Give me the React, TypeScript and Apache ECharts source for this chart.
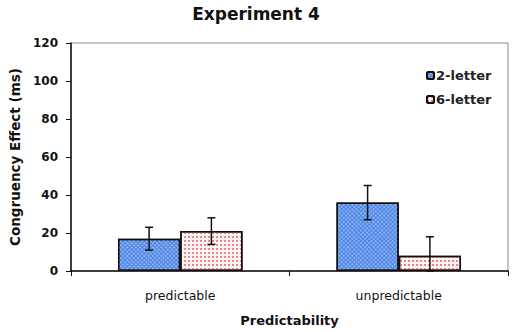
import React, { useEffect, useRef } from "react";
import * as echarts from "echarts";

const categories = ["predictable", "unpredictable"];
const seriesNames = ["2-letter", "6-letter"];
const values2 = [17, 36];
const values6 = [21, 8];
const err2 = [6, 9];
const err6 = [7, 10];
const yTicks = [0, 20, 40, 60, 80, 100, 120];

const FONT = "DejaVu Sans";

export default function App() {
  const ref = useRef<HTMLDivElement>(null);
  useEffect(() => {
    if (!ref.current) return;
    const chart = echarts.init(ref.current, undefined, { renderer: "svg" });
    const errData: number[][] = [];
    values2.forEach((v, i) => errData.push([i, v, err2[i], 0]));
    values6.forEach((v, i) => errData.push([i, v, err6[i], 1]));
    chart.setOption({
      animation: false,
      backgroundColor: "#fff",
      title: {
        text: "Experiment 4",
        left: "center",
        top: 0,
        textStyle: { fontFamily: FONT, fontWeight: "bold", fontSize: 17, color: "#111" },
      },
      legend: {
        orient: "vertical",
        left: 421,
        top: 64,
        itemWidth: 7,
        itemHeight: 7,
        itemGap: 11,
        data: seriesNames,
        textStyle: { fontFamily: FONT, fontSize: 13, fontWeight: "bold", color: "#222", padding: [0, 0, 0, -3] },
      },
      grid: {
        left: 65,
        right: 4,
        top: 43,
        bottom: 56,
        show: true,
        borderColor: "#888",
        borderWidth: 1,
      },
      xAxis: {
        type: "category",
        data: categories,
        name: "Predictability",
        nameLocation: "middle",
        nameGap: 43,
        nameTextStyle: { fontFamily: FONT, fontWeight: "bold", fontSize: 13, color: "#111" },
        axisLine: { lineStyle: { color: "#111", width: 1.5 } },
        axisTick: { show: true, length: 5, lineStyle: { color: "#111" } },
        axisLabel: { fontFamily: FONT, fontSize: 12.5, color: "#111", margin: 18 },
      },
      yAxis: {
        type: "value",
        min: 0,
        max: 120,
        interval: 20,
        name: "Congruency Effect (ms)",
        nameLocation: "middle",
        nameGap: 49,
        nameTextStyle: { fontFamily: FONT, fontWeight: "bold", fontSize: 13.5, color: "#111" },
        axisLine: { show: true, lineStyle: { color: "#111", width: 1.5 } },
        axisTick: { show: true, length: 5, lineStyle: { color: "#111" } },
        axisLabel: {
          fontFamily: FONT,
          fontSize: 12,
          fontWeight: "bold",
          color: "#111",
          margin: 13,
          formatter: (v: number) => (yTicks.includes(v) ? String(v) : ""),
        },
        splitLine: { show: false },
      },
      series: [
        {
          name: seriesNames[0],
          type: "bar",
          data: values2,
          barGap: "0%",
          barCategoryGap: "43%",
          itemStyle: {
            color: "#4a80e2",
            borderColor: "#111",
            borderWidth: 1.5,
            decal: {
              symbol: "circle",
              symbolSize: 1,
              color: "rgba(170,205,255,0.8)",
              dashArrayX: [2, 1],
              dashArrayY: [2, 1],
              rotation: 0.785,
            },
          },
        },
        {
          name: seriesNames[1],
          type: "bar",
          data: values6,
          itemStyle: {
            color: "#fdf5f5",
            borderColor: "#111",
            borderWidth: 1.5,
            decal: {
              symbol: "circle",
              symbolSize: 1,
              color: "#dc7272",
              dashArrayX: [1.3, 2],
              dashArrayY: [1.3, 2],
              rotation: 0,
            },
          },
        },
        {
          type: "custom",
          data: errData,
          z: 10,
          renderItem: (params: any, api: any) => {
            const idx = api.value(0);
            const v = api.value(1);
            const e = api.value(2);
            const s = api.value(3);
            const band = api.size([1, 0])[0];
            const bw = band * (1 - 0.43) / 2;
            const c = api.coord([idx, v]);
            const x = c[0] + (s === 0 ? -bw / 2 : bw / 2);
            const top = api.coord([idx, v + e])[1];
            const bot = api.coord([idx, Math.max(0, v - e)])[1];
            const style = { stroke: "#111", lineWidth: 1.5 };
            return {
              type: "group",
              children: [
                { type: "line", shape: { x1: x, y1: top, x2: x, y2: bot }, style },
                { type: "line", shape: { x1: x - 4, y1: top, x2: x + 4, y2: top }, style },
                { type: "line", shape: { x1: x - 4, y1: bot, x2: x + 4, y2: bot }, style },
              ],
            };
          },
        },
      ],
    });
    return () => chart.dispose();
  }, []);
  return <div ref={ref} style={{ width: 512, height: 332, position: "absolute", left: 0, top: 0 }} />;
}
